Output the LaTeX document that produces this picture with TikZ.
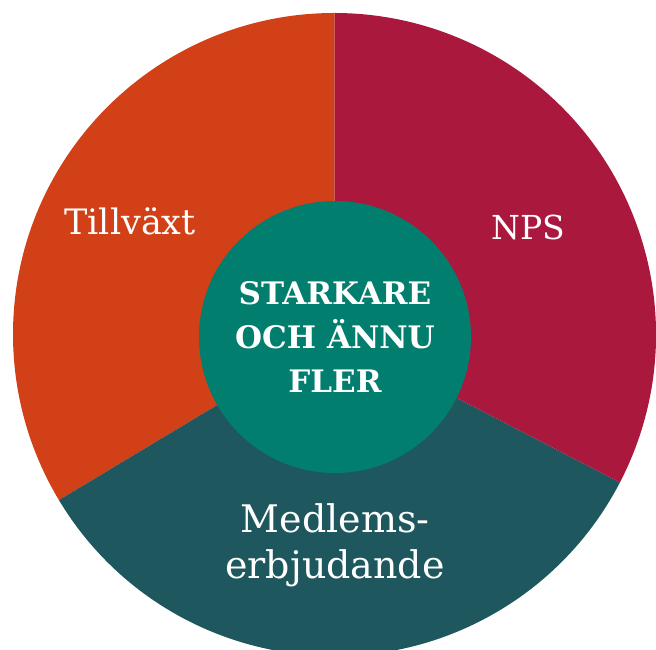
\documentclass[tikz,border=0pt]{standalone}
\usepackage{fontspec}
\setmainfont{DejaVu Serif}
\definecolor{tillvaxt}{RGB}{209,64,22}
\definecolor{nps}{RGB}{170,24,62}
\definecolor{medlem}{RGB}{31,87,94}
\definecolor{karna}{RGB}{2,126,110}

\begin{document}
\begin{tikzpicture}[x=1pt,y=1pt]
\tikzset{segtext/.style={text=white,inner sep=0pt,anchor=base,align=center}}
\useasboundingbox (0,0) rectangle (656,650);
\coordinate (mitt) at (334.5,315.5);
\fill [tillvaxt] (mitt) -- ++(90:321.5) arc (90:211:321.5) -- cycle;
\fill [medlem] (mitt) -- ++(211:321.5) arc (211:332.6:321.5) -- cycle;
\fill [nps] (mitt) -- ++(332.6:321.5) arc (332.6:450:321.5) -- cycle;
\node [circle,fill=karna,minimum size=272pt,inner sep=0pt,text=white,align=center,
  font=\fontsize{31}{44}\selectfont\bfseries] (karna) at (335,313) {STARKARE\\OCH ÄNNU\\FLER};
\node [segtext,font=\fontsize{35}{40}\selectfont] (tillv) at (130,415) {Tillväxt};
\node [segtext,font=\fontsize{33}{40}\selectfont] (npsl) at (528,410.5) {NPS};
\node [segtext,font=\fontsize{38}{46}\selectfont] (medl) at (335,71) {Medlems-\\erbjudande};
\end{tikzpicture}
\end{document}
